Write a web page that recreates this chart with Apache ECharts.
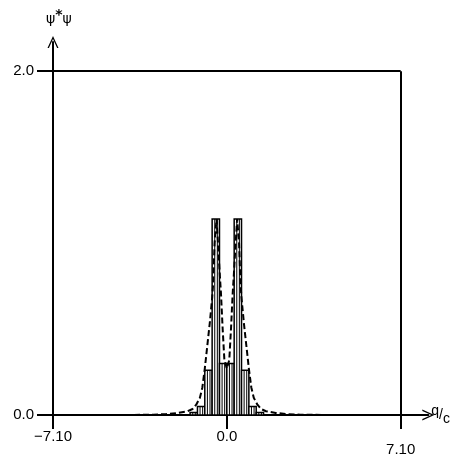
<!DOCTYPE html>
<html>
<head>
<meta charset="utf-8">
<script src="https://cdn.jsdelivr.net/npm/echarts@6/dist/echarts.min.js"></script>
<style>html,body{margin:0;padding:0;background:#fff}#c{width:453px;height:457px}</style>
</head>
<body>
<div id="c"></div>
<script>
// Histogram bins (q/c centres) and heights
const binCenters = [-1.35, -1.05, -0.75, -0.45, -0.15, 0.15, 0.45, 0.75, 1.05, 1.35];
const binValues  = [0.015, 0.05, 0.26, 1.14, 0.30, 0.30, 1.14, 0.26, 0.05, 0.015];
const binWidth = 0.3;
// Dashed exact curve
const curveX = [-7.1, -4.0, -3.0, -2.5, -2.0, -1.6, -1.4, -1.25, -1.1, -1.0, -0.9, -0.8, -0.7, -0.6, -0.56, -0.5, -0.42, -0.34, -0.28, -0.24, -0.17, -0.1, 0,
                0.1, 0.17, 0.24, 0.28, 0.34, 0.42, 0.5, 0.56, 0.6, 0.7, 0.8, 0.9, 1.0, 1.1, 1.25, 1.4, 1.6, 2.0, 2.5, 3.0, 4.0, 7.1];
const curveY = [0, 0, 0.002, 0.005, 0.012, 0.022, 0.035, 0.06, 0.1, 0.16, 0.27, 0.4, 0.53, 0.68, 0.76, 1.0, 1.14, 0.95, 0.8, 0.71, 0.5, 0.32, 0.27,
                0.32, 0.5, 0.71, 0.8, 0.95, 1.14, 1.0, 0.76, 0.68, 0.53, 0.4, 0.27, 0.16, 0.1, 0.06, 0.035, 0.022, 0.012, 0.005, 0.002, 0, 0];
// Axis ticks
const xTicks = [-7.1, 0, 7.1];
const xTickLabels = ['−7.10', '0.0', '7.10'];
const yTicks = [0, 2];
const yTickLabels = ['0.0', '2.0'];
const xMin = -7.1, xMax = 7.1, yMin = 0, yMax = 2;

const FONT = 'Liberation Sans';
const chevron = 'path://M0,12 L5.5,0 L11,12 L9.6,12 L5.5,3 L1.4,12 Z';

const chart = echarts.init(document.getElementById('c'), null, {renderer: 'canvas'});
const binData = binCenters.map((c, i) => [c, binValues[i]]);
const curveData = curveX.map((x, i) => [x, curveY[i]]);

chart.setOption({
  animation: false,
  backgroundColor: '#fff',
  grid: {left: 53, right: 20, top: 42, bottom: 39, containLabel: false},
  xAxis: {
    type: 'value', min: xMin, max: 8.23,
    splitLine: {show: false},
    axisLine: {show: true, onZero: false, symbol: ['none', chevron], symbolSize: [11, 12],
      lineStyle: {color: '#000', width: 2}},
    axisTick: {show: true, length: 14, inside: false, customValues: xTicks, lineStyle: {color: '#000', width: 2}},
    axisLabel: {show: true, customValues: xTicks, margin: 14, color: '#000', fontFamily: FONT, fontSize: 15,
      formatter: v => {
        const i = xTicks.findIndex(t => Math.abs(t - v) < 1e-6);
        const s = i >= 0 ? xTickLabels[i] : '';
        return v > 1 ? '{low|' + s + '}' : s;
      },
      rich: {low: {padding: [13, 0, 0, 0], color: '#000', fontFamily: FONT, fontSize: 15}}
    },
    name: '{q|q}{s|/}{c|c}', nameLocation: 'end', nameGap: 3,
    nameTextStyle: {rich: {
      q: {fontFamily: FONT, fontSize: 14, color: '#000', padding: [0, 0, 8, 0]},
      s: {fontFamily: FONT, fontSize: 14, color: '#000'},
      c: {fontFamily: FONT, fontSize: 14, color: '#000', padding: [8, 0, 0, 0]}
    }}
  },
  yAxis: {
    type: 'value', min: yMin, max: 2.17,
    splitLine: {show: false},
    axisLine: {show: true, onZero: false, symbol: ['none', chevron], symbolSize: [11, 12],
      lineStyle: {color: '#000', width: 2}},
    axisTick: {show: true, length: 16, inside: false, customValues: yTicks, lineStyle: {color: '#000', width: 2}},
    axisLabel: {show: true, customValues: yTicks, margin: 19, color: '#000', fontFamily: FONT, fontSize: 15,
      formatter: v => {
        const i = yTicks.findIndex(t => Math.abs(t - v) < 1e-6);
        return i >= 0 ? yTickLabels[i] : '';
      }},
    name: '{a|ψ}{b|*}{a|ψ}', nameLocation: 'end', nameGap: 12,
    nameTextStyle: {align: 'left', padding: [0, 0, 0, -7], rich: {
      a: {fontFamily: 'DejaVu Sans', fontSize: 14, color: '#000'},
      b: {fontFamily: 'DejaVu Sans', fontSize: 14, color: '#000', fontWeight: 'bold', padding: [0, 0, 8, 0]}
    }}
  },
  series: [
    {
      type: 'custom',
      data: binData,
      z: 2,
      renderItem: (params, api) => {
        const c = api.value(0), v = api.value(1);
        const p0 = api.coord([c - binWidth / 2, v]);
        const p1 = api.coord([c + binWidth / 2, 0]);
        const x0 = p0[0], x1 = p1[0], yT = p0[1], yB = p1[1];
        const children = [{
          type: 'rect', shape: {x: x0, y: yT, width: x1 - x0, height: yB - yT},
          style: {fill: '#fff', stroke: '#000', lineWidth: 1.5}
        }];
        for (let x = x0 + 2.6; x < x1 - 1; x += 2.6) {
          children.push({type: 'line', shape: {x1: x, y1: yT, x2: x, y2: yB},
            style: {stroke: '#000', lineWidth: 1}});
        }
        return {type: 'group', children};
      }
    },
    {
      type: 'line',
      data: curveData,
      z: 3,
      showSymbol: false,
      symbol: 'none',
      smooth: false,
      lineStyle: {color: '#000', width: 2, type: [6, 3]},
      markLine: {
        silent: true, symbol: ['none', 'none'], label: {show: false},
        lineStyle: {color: '#000', width: 2, type: 'solid'},
        data: [
          [{coord: [xMin, yMax]}, {coord: [xMax, yMax]}],
          [{coord: [xMax, yMax]}, {coord: [xMax, yMin]}]
        ]
      }
    }
  ]
});
</script>
</body>
</html>
